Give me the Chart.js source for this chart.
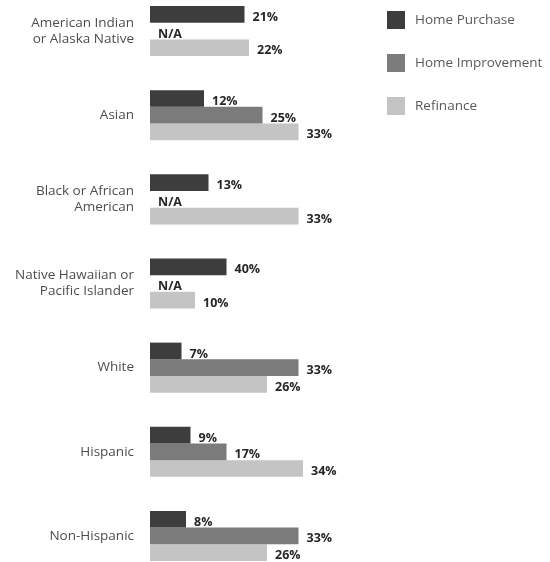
<!DOCTYPE html>
<html>
<head>
<meta charset="utf-8">
<script src="https://cdn.jsdelivr.net/npm/chart.js@4"></script>
<style>
  body { margin: 0; background: #fff; }
  #wrap { position: relative; width: 550px; height: 562px; overflow: hidden; }
  #box { position: absolute; left: 0; top: -11px; width: 550px; height: 589px; }
</style>
</head>
<body>
<div id="wrap"><div id="box"><canvas id="myChart"></canvas></div></div>
<script>
// categories (two-line names are arrays)
const groups = [
  ['American Indian', 'or Alaska Native'],
  'Asian',
  ['Black or African', 'American'],
  ['Native Hawaiian or', 'Pacific Islander'],
  'White',
  'Hispanic',
  'Non-Hispanic'
]
const seriesNames = ['Home Purchase', 'Home Improvement', 'Refinance']

// bar lengths as drawn in the picture (null = N/A)
const purchase    = [21, 12, 13, 17, 7, 9, 8]
const improvement = [null, 25, null, null, 33, 17, 33]
const refinance   = [22, 33, 33, 10, 26, 34, 26]

// printed labels
const purchaseLbl    = ['21%', '12%', '13%', '40%', '7%', '9%', '8%']
const improvementLbl = ['N/A', '25%', 'N/A', 'N/A', '33%', '17%', '33%']
const refinanceLbl   = ['22%', '33%', '33%', '10%', '26%', '34%', '26%']

const colors = ['#3d3d3d', '#7b7b7b', '#c4c4c4']
const FONT = '"Open Sans", sans-serif'

// value labels at the end of each bar
const barLabels = {
  id: 'barLabels',
  afterDatasetsDraw(chart) {
    const c = chart.ctx
    const x0 = chart.scales.x.getPixelForValue(0)
    c.save()
    c.font = 'bold 12.5px ' + FONT
    c.fillStyle = '#262626'
    c.textBaseline = 'middle'
    chart.data.datasets.forEach((ds, i) => {
      const meta = chart.getDatasetMeta(i)
      meta.data.forEach((el, j) => {
        const v = ds.data[j]
        const x = (v == null || isNaN(el.x)) ? x0 : el.x
        c.fillText(ds.valueLabels[j], x + 8, el.y + 3)
      })
    })
    c.restore()
  }
}

// legend on the right
const sideLegend = {
  id: 'sideLegend',
  afterDraw(chart) {
    const c = chart.ctx
    c.save()
    c.font = '13.5px ' + FONT
    c.textBaseline = 'middle'
    chart.data.datasets.forEach((ds, i) => {
      const y = 22 + i * 43
      c.fillStyle = ds.backgroundColor
      c.fillRect(387, y, 18, 18)
      c.fillStyle = '#595959'
      c.fillText(ds.label, 415, y + 9)
    })
    c.restore()
  }
}

const ctx = document.getElementById('myChart')

new Chart(ctx, {
  type: 'bar',
  data: {
    labels: groups,
    datasets: [
      { label: seriesNames[0], data: purchase, valueLabels: purchaseLbl, backgroundColor: colors[0] },
      { label: seriesNames[1], data: improvement, valueLabels: improvementLbl, backgroundColor: colors[1] },
      { label: seriesNames[2], data: refinance, valueLabels: refinanceLbl, backgroundColor: colors[2] }
    ]
  },
  options: {
    indexAxis: 'y',
    responsive: true,
    maintainAspectRatio: false,
    animation: false,
    categoryPercentage: 0.595,
    barPercentage: 1,
    layout: { padding: { left: 0, right: 220, top: 0, bottom: 0 } },
    plugins: {
      legend: { display: false },
      tooltip: { enabled: false }
    },
    scales: {
      x: {
        min: 0,
        max: 40,
        display: false
      },
      y: {
        grid: { display: false },
        border: { display: false },
        ticks: {
          color: '#4d4d4d',
          padding: 8,
          font: { family: FONT, size: 13.5 }
        },
        afterFit(scale) {
          scale.width = 150
          scale.paddingTop = 0
          scale.paddingBottom = 0
        }
      }
    }
  },
  plugins: [barLabels, sideLegend]
})
</script>
</body>
</html>
